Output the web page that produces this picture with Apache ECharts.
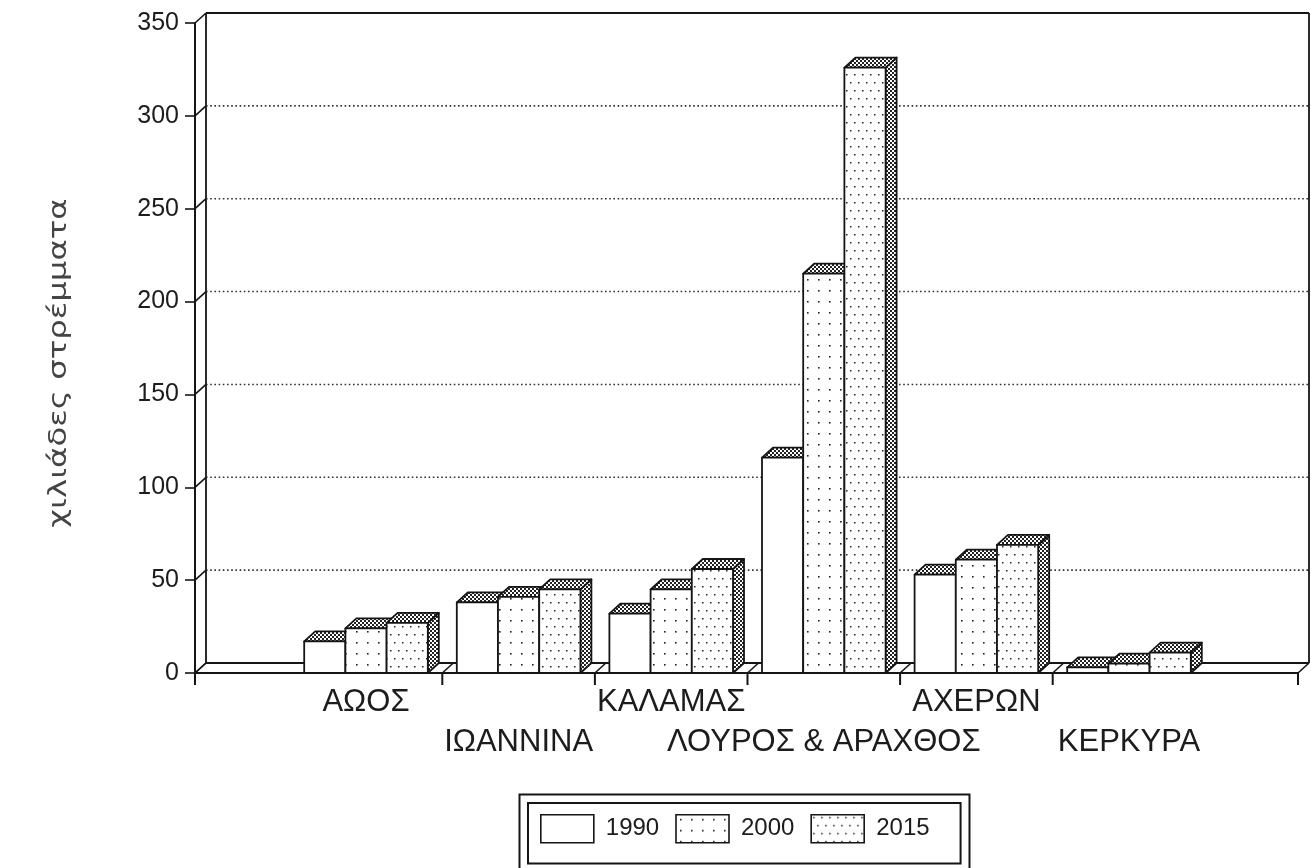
<!DOCTYPE html>
<html>
<head>
<meta charset="utf-8">
<script src="https://cdn.jsdelivr.net/npm/echarts@6/dist/echarts.min.js"></script>
<style>
  html, body { margin: 0; padding: 0; background: #fff; }
  #chart { width: 1311px; height: 868px; }
</style>
</head>
<body>
<div id="chart"></div>
<script>
// Irrigated land per river basin, thousands of stremmata
const categories = ['ΑΩΟΣ', 'ΙΩΑΝΝΙΝΑ', 'ΚΑΛΑΜΑΣ', 'ΛΟΥΡΟΣ & ΑΡΑΧΘΟΣ', 'ΑΧΕΡΩΝ', 'ΚΕΡΚΥΡΑ'];
const years = ['1990', '2000', '2015'];
const v1990 = [17, 38, 32, 116, 53, 3];
const v2000 = [24, 41, 45, 215, 61, 5];
const v2015 = [27, 45, 56, 326, 69, 11];
const yTicks = [0, 50, 100, 150, 200, 250, 300, 350];
const groupEdges = [0.5, 1.5, 2.5, 3.5, 4.5];
const yTitle = 'χιλιάδες στρέμματα';

// 3D look: depth offset of the back wall and bar tops
const DX = 11, DY = -10;
const X_MIN = -1.1206, X_MAX = 6.1075;
const BAR_W = 0.27;
const INK = '#151515';
const SANS = '"Liberation Sans", Arial, sans-serif';

function makePattern(w, h, draw) {
  const c = document.createElement('canvas');
  c.width = w; c.height = h;
  const g = c.getContext('2d');
  g.fillStyle = '#fff';
  g.fillRect(0, 0, w, h);
  g.fillStyle = '#222';
  draw(g);
  return { image: c, repeat: 'repeat' };
}
const sparseDots = makePattern(11, 11, g => { g.fillRect(4, 4, 1.6, 1.6); });
const denseDots = makePattern(16, 16, g => {
  g.fillRect(2, 2, 1.5, 1.5); g.fillRect(10, 2, 1.5, 1.5);
  g.fillRect(6, 10, 1.5, 1.5); g.fillRect(14, 10, 1.5, 1.5);
});
const shade = makePattern(4, 4, g => { g.fillRect(0, 0, 2, 2); g.fillRect(2, 2, 2, 2); });
const fronts = ['#ffffff', sparseDots, denseDots];
const seriesValues = [v1990, v2000, v2015];

function line(x1, y1, x2, y2, style) {
  return { type: 'line', shape: { x1, y1, x2, y2 }, style: Object.assign({ stroke: INK, lineWidth: 2 }, style || {}) };
}

// Back wall, floor, dotted gridlines and tick connectors
function renderFrame(params, api) {
  const v = api.value(1);
  const l = api.coord([X_MIN, v]);
  const r = api.coord([X_MAX, v]);
  const kids = [];
  const maxV = yTicks[yTicks.length - 1];
  if (v === 0 || v === maxV) {
    kids.push(line(l[0] + DX, l[1] + DY, r[0] + DX, r[1] + DY, { lineWidth: 1.8 }));
  } else {
    kids.push(line(l[0] + DX, l[1] + DY, r[0] + DX, r[1] + DY, { stroke: '#333', lineWidth: 1.6, lineDash: [1.6, 2.6] }));
  }
  kids.push(line(l[0], l[1], l[0] + DX, l[1] + DY, { lineWidth: 1.6 }));
  if (v === 0) {
    const lt = api.coord([X_MIN, maxV]);
    const rt = api.coord([X_MAX, maxV]);
    kids.push(line(l[0], l[1], r[0], r[1], { lineWidth: 2.2 }));
    kids.push(line(l[0] + DX, l[1] + DY, lt[0] + DX, lt[1] + DY, { lineWidth: 1.8 }));
    kids.push(line(r[0] + DX, r[1] + DY, rt[0] + DX, rt[1] + DY, { lineWidth: 1.8 }));
  }
  return { type: 'group', children: kids };
}

// Ticks below the floor and the floor diagonals at group borders
function renderEdge(params, api) {
  const p = api.coord([api.value(0), 0]);
  return {
    type: 'group',
    children: [
      line(p[0], p[1], p[0], p[1] + 12, { lineWidth: 2 }),
      line(p[0], p[1], p[0] + DX, p[1] + DY, { lineWidth: 1.6 })
    ]
  };
}

function renderLabel(params, api) {
  const i = api.value(0);
  const p = api.coord([i, 0]);
  return {
    type: 'text',
    x: p[0],
    y: p[1] + (i % 2 ? 69 : 29),
    style: {
      text: categories[params.dataIndex],
      fill: '#1c1c1c',
      font: '31px ' + SANS,
      align: 'center',
      verticalAlign: 'middle'
    }
  };
}

function barRenderer(k) {
  return function (params, api) {
    const i = api.value(0), v = api.value(1);
    const x0 = i + (k - 1) * BAR_W - BAR_W / 2;
    const bl = api.coord([x0, 0]);
    const tr = api.coord([x0 + BAR_W, v]);
    const xl = bl[0], yb = bl[1], xr = tr[0], yt = tr[1];
    const edge = { stroke: INK, lineWidth: 1.8, lineJoin: 'round' };
    return {
      type: 'group',
      children: [
        { type: 'polygon', shape: { points: [[xr, yt], [xr + DX, yt + DY], [xr + DX, yb + DY], [xr, yb]] },
          style: Object.assign({ fill: shade }, edge) },
        { type: 'polygon', shape: { points: [[xl, yt], [xr, yt], [xr + DX, yt + DY], [xl + DX, yt + DY]] },
          style: Object.assign({ fill: shade }, edge) },
        { type: 'rect', shape: { x: xl, y: yt, width: xr - xl, height: yb - yt },
          style: Object.assign({ fill: fronts[k] }, edge) }
      ]
    };
  };
}

const chart = echarts.init(document.getElementById('chart'), null, { renderer: 'canvas' });

const series = [
  { type: 'custom', name: 'frame', z: 1, silent: true, clip: false,
    data: yTicks.map(v => [X_MIN, v]), renderItem: renderFrame },
  { type: 'custom', name: 'edges', z: 1, silent: true, clip: false,
    data: [X_MIN].concat(groupEdges, [X_MAX]).map(x => [x, 0]), renderItem: renderEdge },
  { type: 'custom', name: 'labels', z: 4, silent: true, clip: false,
    data: categories.map((c, i) => [i, 0]), renderItem: renderLabel }
];
years.forEach((y, k) => {
  series.push({
    type: 'custom', name: y, z: 2, clip: false,
    itemStyle: { color: fronts[k] },
    data: categories.map((c, i) => [i, seriesValues[k][i]]),
    renderItem: barRenderer(k)
  });
});

chart.setOption({
  animation: false,
  backgroundColor: '#fff',
  grid: { left: 195, right: 13, top: 23, bottom: 195 },
  xAxis: { type: 'value', min: X_MIN, max: X_MAX, show: false },
  yAxis: {
    type: 'value', min: 0, max: 350, interval: 50,
    axisLine: { show: true, onZero: false, lineStyle: { color: INK, width: 2 } },
    axisTick: { show: true, length: 10, lineStyle: { color: INK, width: 1.6 } },
    axisLabel: { margin: 16, fontSize: 25, color: '#1c1c1c', fontFamily: SANS },
    splitLine: { show: false }
  },
  legend: {
    left: 528, top: 803,
    orient: 'horizontal',
    selectedMode: false,
    itemWidth: 53, itemHeight: 28, itemGap: 16,
    padding: [11, 31, 20, 12],
    borderColor: INK, borderWidth: 2,
    textStyle: { fontSize: 24, color: '#1c1c1c', padding: [0, 0, 0, 7], fontFamily: SANS },
    data: years.map((y, k) => ({
      name: y, icon: 'rect',
      itemStyle: { color: fronts[k], borderColor: INK, borderWidth: 1.6 }
    }))
  },
  graphic: [
    { type: 'rect', left: 517, top: 792, shape: { width: 450, height: 90 },
      style: { fill: 'none', stroke: INK, lineWidth: 2 } },
    { type: 'text', x: 60, y: 363, rotation: Math.PI / 2, scaleX: 1.35,
      style: { text: yTitle, fill: '#444', font: '24px "DejaVu Sans", sans-serif',
        align: 'center', verticalAlign: 'middle' } }
  ],
  series: series
});
</script>
</body>
</html>
